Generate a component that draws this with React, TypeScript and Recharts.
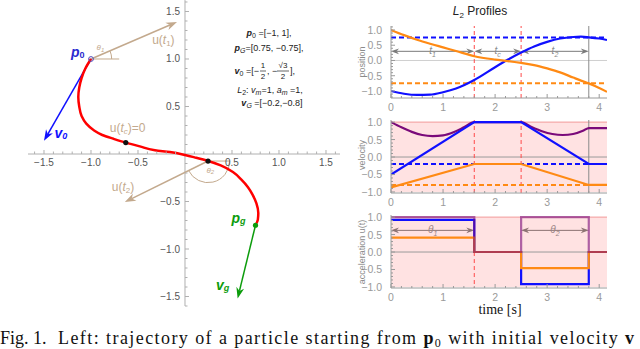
import React from 'react';
import {
  ComposedChart,
  LineChart,
  Line,
  Scatter,
  XAxis,
  YAxis,
  ReferenceLine,
  ReferenceArea,
} from 'recharts';

const BLUE = '#1010ff';
const ORANGE = '#ff8a14';
const PURPLE = '#7a0a7a';
const RED = '#ff0000';
const TAN = '#c3a98d';
const GREEN = '#0c9c0c';
const PINK = '#ffe2e2';
const DASH_RED = '#ff4a4a';
const FRAME = '#9a9a9a';
const TICK_TXT = '#9a9a9a';
const FONT = '"Liberation Sans", Arial, sans-serif';
const SERIF = '"Liberation Serif", "Times New Roman", serif';

// ---- left plot: trajectory in the plane
const TRAJ_X = [-1.0, -1.06, -1.1, -1.125, -1.135, -1.125, -1.1, -1.05, -0.97, -0.88, -0.76, -0.63, -0.48, -0.32, -0.16, 0.0, 0.12, 0.245, 0.38, 0.51, 0.6, 0.67, 0.72, 0.76, 0.78, 0.775, 0.75];
const TRAJ_Y = [1.0, 0.9, 0.8, 0.7, 0.6, 0.5, 0.4, 0.32, 0.25, 0.2, 0.16, 0.12, 0.08, 0.04, 0.02, -0.01, -0.04, -0.074, -0.12, -0.19, -0.27, -0.35, -0.43, -0.52, -0.62, -0.69, -0.75];

const P0 = { x: -1, y: 1 };
const PG = { x: 0.75, y: -0.75 };
const PC = { x: -0.63, y: 0.12 };
const P2 = { x: 0.245, y: -0.074 };
const V0_TIP = { x: -1.5, y: 0.14 };
const VG_TIP = { x: 0.56, y: -1.52 };
const U1_TIP = { x: -0.085, y: 1.39 };
const U2_TIP = { x: -0.64, y: -0.505 };

const AXIS_MAJOR = [-1.5, -1, -0.5, 0.5, 1, 1.5];
const AXIS_MINOR: number[] = [];
for (let i = -16; i <= 16; i++) if (i % 5 !== 0) AXIS_MINOR.push(i / 10);

const LABELS = [
  { id: 'p0', x: -1.14, y: 1.07 },
  { id: 'v0', x: -1.32, y: 0.22 },
  { id: 'u1', x: -0.23, y: 1.2 },
  { id: 'uc', x: -0.61, y: 0.27 },
  { id: 'u2', x: -0.66, y: -0.35 },
  { id: 'pg', x: 0.57, y: -0.67 },
  { id: 'vg', x: 0.4, y: -1.38 },
  { id: 'th1', x: -0.9, y: 1.12 },
  { id: 'th2', x: 0.27, y: -0.17 },
];

// ---- right panels: profiles over time
const T_MAX = 4.15;
const SWITCH_T = [1.6, 2.5];
const T_FINAL = 3.8;

const T_POS = [0, 0.25, 0.5, 0.75, 1, 1.25, 1.6, 2, 2.25, 2.5, 2.75, 3, 3.25, 3.5, 3.65, 3.8, 4, 4.15];
const POS_X = [-1, -1.09, -1.13, -1.12, -1.04, -0.92, -0.64, -0.22, 0.03, 0.26, 0.46, 0.61, 0.72, 0.77, 0.78, 0.76, 0.72, 0.67];
const POS_Y = [1, 0.83, 0.68, 0.55, 0.43, 0.31, 0.14, 0.03, -0.02, -0.08, -0.15, -0.26, -0.39, -0.56, -0.66, -0.75, -0.9, -1.03];
const GOAL_POS = [0.75, -0.75];

const T_VEL = [0, 1.6, 2.5, 3.8, 4.15];
const VEL_X = [-0.5, 1, 1, -0.2, -0.2];
const VEL_Y = [-0.87, -0.2, -0.2, -0.8, -0.8];
const T_SPEED = [0, 0.2, 0.4, 0.6, 0.8, 1.0, 1.2, 1.4, 1.6, 2.5, 2.7, 2.9, 3.1, 3.3, 3.5, 3.7, 3.8, 4.15];
const SPEED = [1, 0.85, 0.72, 0.63, 0.6, 0.62, 0.71, 0.85, 1, 1, 0.86, 0.74, 0.66, 0.63, 0.66, 0.76, 0.83, 0.83];
const GOAL_VEL = [-0.2, -0.8];

const T_ACC = [0, 1.6, 2.5, 3.8, 4.15];
const ACC_X = [0.92, 0, -0.92, 0, 0];
const ACC_Y = [0.41, 0, -0.46, 0, 0];
const ACC_NORM = [1, 0, 1, 0, 0];

const TIME_TICKS: number[] = [];
for (let i = 0; i <= 20; i++) TIME_TICKS.push(i / 5);
const VALUE_TICKS: number[] = [];
for (let i = -12; i <= 11; i++) VALUE_TICKS.push(i / 10);

const series = (ts: number[], vs: number[]) => ts.map((t, i) => ({ t, v: vs[i] }));
const fmt = (v: number) => (v < 0 ? '\u2212' : '') + Math.abs(v).toFixed(1);
const near = (a: number, b: number) => Math.abs(a - b) < 1e-6;

// ---- shapes
const arrow = (color: string, w: number, head: number, both = false, label?: (x: number, y: number) => React.ReactNode) => (p: any) => {
  const { x1, y1, x2, y2 } = p;
  const a = Math.atan2(y2 - y1, x2 - x1);
  const hw = head * 0.36;
  const tip = (x: number, y: number, d: number) => {
    const bx = x - head * Math.cos(d);
    const by = y - head * Math.sin(d);
    const pts = `${x},${y} ${bx + hw * Math.sin(d)},${by - hw * Math.cos(d)} ${bx + 0.3 * head * Math.cos(d)},${by + 0.3 * head * Math.sin(d)} ${bx - hw * Math.sin(d)},${by + hw * Math.cos(d)}`;
    return { bx: bx + 0.3 * head * Math.cos(d), by: by + 0.3 * head * Math.sin(d), pts };
  };
  const e = tip(x2, y2, a);
  const s = both ? tip(x1, y1, a + Math.PI) : null;
  return (
    <g>
      <line x1={s ? s.bx : x1} y1={s ? s.by : y1} x2={e.bx} y2={e.by} stroke={color} strokeWidth={w} />
      <polygon points={e.pts} fill={color} />
      {s && <polygon points={s.pts} fill={color} />}
      {label && label((x1 + x2) / 2, (y1 + y2) / 2)}
    </g>
  );
};

const arc = (color: string, a0: number, a1: number) => (p: any) => {
  const r = p.x2 - p.x1;
  const cx = p.x1;
  const cy = p.y1;
  const rad = (d: number) => (d * Math.PI) / 180;
  const sx = cx + r * Math.cos(rad(a0));
  const sy = cy - r * Math.sin(rad(a0));
  const ex = cx + r * Math.cos(rad(a1));
  const ey = cy - r * Math.sin(rad(a1));
  const sweep = a1 > a0 ? 0 : 1;
  const large = Math.abs(a1 - a0) > 180 ? 1 : 0;
  return <path d={`M${sx},${sy} A${r},${r} 0 ${large} ${sweep} ${ex},${ey}`} fill="none" stroke={color} strokeWidth={1} />;
};

const renderLabel = (id: string, cx: number, cy: number) => {
  const common = { x: cx, y: cy, textAnchor: 'middle' as const, dominantBaseline: 'central' as const, fontFamily: FONT };
  switch (id) {
    case 'p0':
      return <text {...common} fill="#2b2bd0" fontSize={14} fontWeight="bold" fontStyle="italic">p<tspan fontSize={9} dy={3} fontStyle="normal">0</tspan></text>;
    case 'v0':
      return <text {...common} fill={BLUE} fontSize={14} fontWeight="bold" fontStyle="italic">v<tspan fontSize={9} dy={3}>0</tspan></text>;
    case 'u1':
      return <text {...common} fill={TAN} fontSize={12}>u(<tspan fontStyle="italic">t</tspan><tspan fontSize={8} dy={3}>1</tspan><tspan dy={-3}>)</tspan></text>;
    case 'uc':
      return <text {...common} fill={TAN} fontSize={12}>u(<tspan fontStyle="italic">t</tspan><tspan fontSize={8} dy={3} fontStyle="italic">c</tspan><tspan dy={-3}>)=0</tspan></text>;
    case 'u2':
      return <text {...common} fill={TAN} fontSize={12}>u(<tspan fontStyle="italic">t</tspan><tspan fontSize={8} dy={3}>2</tspan><tspan dy={-3}>)</tspan></text>;
    case 'pg':
      return <text {...common} fill={GREEN} fontSize={14} fontWeight="bold" fontStyle="italic">p<tspan fontSize={9} dy={3}>g</tspan></text>;
    case 'vg':
      return <text {...common} fill={GREEN} fontSize={14} fontWeight="bold" fontStyle="italic">v<tspan fontSize={9} dy={3}>g</tspan></text>;
    case 'th1':
      return <text {...common} fill={TAN} fontSize={8} fontStyle="italic">θ<tspan fontSize={6} dy={2}>1</tspan></text>;
    case 'th2':
      return <text {...common} fill={TAN} fontSize={8} fontStyle="italic">θ<tspan fontSize={6} dy={2}>2</tspan></text>;
    default:
      return <g />;
  }
};

const xTickData = [
  ...AXIS_MAJOR.map((v) => ({ x: v, y: 0, major: true })),
  ...AXIS_MINOR.map((v) => ({ x: v, y: 0, major: false })),
];
const yTickData = [
  ...AXIS_MAJOR.map((v) => ({ x: 0, y: v, major: true })),
  ...AXIS_MINOR.map((v) => ({ x: 0, y: v, major: false })),
];

function Trajectory() {
  const traj = TRAJ_X.map((x, i) => ({ x, y: TRAJ_Y[i] }));
  return (
    <ComposedChart width={340} height={310} margin={{ top: 0, right: 0, bottom: 0, left: 0 }}>
      <XAxis type="number" dataKey="x" domain={[-1.968, 1.649]} allowDataOverflow hide />
      <YAxis type="number" dataKey="y" domain={[-1.642, 1.621]} allowDataOverflow hide />
      <ReferenceLine segment={[{ x: -1.67, y: 0 }, { x: 1.649, y: 0 }]} stroke="#b0b0b0" ifOverflow="visible" />
      <ReferenceLine segment={[{ x: 0, y: 1.62 }, { x: 0, y: -1.6 }]} stroke="#b0b0b0" ifOverflow="visible" />
      <Scatter
        data={xTickData}
        isAnimationActive={false}
        shape={(p: any) => (
          <g>
            <line x1={p.cx} x2={p.cx} y1={p.cy} y2={p.cy - (p.payload.major ? 4 : 2.5)} stroke="#b0b0b0" />
            {p.payload.major && (
              <text x={p.cx} y={p.cy + 12} textAnchor="middle" fontSize={10} fill="#555" fontFamily={FONT}>{fmt(p.payload.x)}</text>
            )}
          </g>
        )}
      />
      <Scatter
        data={yTickData}
        isAnimationActive={false}
        shape={(p: any) => (
          <g>
            <line x1={p.cx} x2={p.cx + (p.payload.major ? 4 : 2.5)} y1={p.cy} y2={p.cy} stroke="#b0b0b0" />
            {p.payload.major && (
              <text x={p.cx - 5} y={p.cy} textAnchor="end" dominantBaseline="central" fontSize={10} fill="#555" fontFamily={FONT}>{fmt(p.payload.y)}</text>
            )}
          </g>
        )}
      />
      <ReferenceLine segment={[P0, { x: -0.7, y: 1 }]} stroke={TAN} ifOverflow="visible" />
      <ReferenceLine segment={[P0, { x: -0.78, y: 1 }]} shape={arc(TAN, 0, 23)} ifOverflow="visible" />
      <ReferenceLine segment={[P2, { x: 0.48, y: P2.y }]} stroke={TAN} ifOverflow="visible" />
      <ReferenceLine segment={[P2, { x: 0.475, y: P2.y }]} shape={arc(TAN, 0, -154)} ifOverflow="visible" />
      <ReferenceLine segment={[P0, U1_TIP]} shape={arrow(TAN, 1.5, 11)} ifOverflow="visible" />
      <ReferenceLine segment={[P2, U2_TIP]} shape={arrow(TAN, 1.5, 11)} ifOverflow="visible" />
      <ReferenceLine segment={[P0, V0_TIP]} shape={arrow(BLUE, 1.5, 11)} ifOverflow="visible" />
      <ReferenceLine segment={[PG, VG_TIP]} shape={arrow(GREEN, 1.5, 11)} ifOverflow="visible" />
      <Line data={traj} dataKey="y" type="monotoneY" stroke={RED} strokeWidth={2.5} dot={false} activeDot={false} isAnimationActive={false} />
      <Scatter data={[PC, P2]} isAnimationActive={false} shape={(p: any) => <circle cx={p.cx} cy={p.cy} r={2.6} fill="#111" />} />
      <Scatter data={[PG]} isAnimationActive={false} shape={(p: any) => <circle cx={p.cx} cy={p.cy} r={2.6} fill={GREEN} />} />
      <Scatter data={[P0]} isAnimationActive={false} shape={(p: any) => <circle cx={p.cx} cy={p.cy} r={2.4} fill="none" stroke="#5050c0" strokeWidth={1} />} />
      <Scatter data={LABELS} isAnimationActive={false} shape={(p: any) => renderLabel(p.payload.id, p.cx, p.cy)} />
    </ComposedChart>
  );
}

const TimeTick = (p: any) => {
  const v = p.payload.value;
  const major = near(v, Math.round(v));
  return (
    <g>
      <line x1={p.x} x2={p.x} y1={p.y} y2={p.y - (major ? 4 : 2)} stroke={FRAME} />
      {major && (
        <text x={p.x} y={p.y + 13} textAnchor="middle" fontSize={10.5} fill={TICK_TXT} fontFamily={FONT}>{v}</text>
      )}
    </g>
  );
};

const ValueTick = (p: any) => {
  const v = p.payload.value;
  const major = near(v * 2, Math.round(v * 2));
  return (
    <g>
      <line x1={p.x} x2={p.x + (major ? 4 : 2)} y1={p.y} y2={p.y} stroke={FRAME} />
      {major && (
        <text x={p.x - 9} y={p.y} textAnchor="end" dominantBaseline="central" fontSize={10.5} fill={TICK_TXT} fontFamily={FONT}>{fmt(v)}</text>
      )}
    </g>
  );
};

function Panel({ top, marginTop, plotH, yDomain, children }: { top: number; marginTop: number; plotH: number; yDomain: [number, number]; children: React.ReactNode }) {
  const yTicks = VALUE_TICKS.filter((v) => v >= yDomain[0] && v <= yDomain[1]);
  return (
    <div style={{ position: 'absolute', left: 340, top }}>
      <LineChart width={300} height={marginTop + plotH + 20} margin={{ top: marginTop, right: 33, bottom: 0, left: 0 }}>
        <XAxis type="number" dataKey="t" domain={[0, T_MAX]} allowDataOverflow ticks={TIME_TICKS} interval={0} tickSize={0} tickMargin={0} tickLine={false} height={20} stroke={FRAME} tick={TimeTick} />
        <YAxis type="number" domain={yDomain} allowDataOverflow ticks={yTicks} interval={0} width={51} tickSize={0} tickMargin={0} tickLine={false} stroke={FRAME} tick={ValueTick} />
        {children}
      </LineChart>
    </div>
  );
}

const spanLabel = (color: string, name: string, sb: string) => (x: number, y: number) => (
  <text x={x} y={y - 0.5} textAnchor="middle" dominantBaseline="central" fontSize={10} fill={color} fontFamily={FONT} fontStyle="italic">
    {name}
    <tspan fontSize={7} dy={3}>{sb}</tspan>
  </text>
);

export default function App() {
  const vline = (t: number, key: string) => (
    <ReferenceLine key={key} x={t} stroke={DASH_RED} strokeDasharray="4 3" />
  );
  return (
    <div style={{ position: 'absolute', left: 0, top: 0, width: 640, height: 349, background: '#fff', overflow: 'hidden' }}>
      <div style={{ position: 'absolute', left: 0, top: 0 }}>
        <Trajectory />
      </div>

      <Panel top={0} marginTop={26} plotH={72} yDomain={[-1.23, 1.13]}>
        <ReferenceLine y={0} stroke="#cfcfcf" />
        {SWITCH_T.map((t, i) => vline(t, 'p' + i))}
        <ReferenceLine x={T_FINAL} stroke="#8a8a8a" />
        <ReferenceLine y={GOAL_POS[0]} stroke={BLUE} strokeWidth={2} strokeDasharray="5 3" />
        <ReferenceLine y={GOAL_POS[1]} stroke={ORANGE} strokeWidth={2} strokeDasharray="5 3" />
        <ReferenceLine segment={[{ x: 0, y: 0.3 }, { x: SWITCH_T[0], y: 0.3 }]} shape={arrow('#7a7a7a', 1, 8, true, spanLabel('#8a8a8a', 't', '1'))} />
        <ReferenceLine segment={[{ x: SWITCH_T[0], y: 0.3 }, { x: SWITCH_T[1], y: 0.3 }]} shape={arrow('#7a7a7a', 1, 8, true, spanLabel('#8a8a8a', 't', 'c'))} />
        <ReferenceLine segment={[{ x: SWITCH_T[1], y: 0.3 }, { x: T_FINAL, y: 0.3 }]} shape={arrow('#7a7a7a', 1, 8, true, spanLabel('#8a8a8a', 't', '2'))} />
        <Line data={series(T_POS, POS_X)} dataKey="v" type="monotone" stroke={BLUE} strokeWidth={2.2} dot={false} isAnimationActive={false} />
        <Line data={series(T_POS, POS_Y)} dataKey="v" type="monotone" stroke={ORANGE} strokeWidth={2.2} dot={false} isAnimationActive={false} />
      </Panel>

      <Panel top={100} marginTop={20} plotH={73} yDomain={[-1.03, 1.06]}>
        <ReferenceArea x1={0} x2={T_MAX} y1={-1} y2={1} fill={PINK} fillOpacity={1} stroke="none" />
        <ReferenceLine y={1} stroke="#f29a9a" />
        <ReferenceLine y={0} stroke="#9a9a9a" />
        {SWITCH_T.map((t, i) => vline(t, 'v' + i))}
        <ReferenceLine x={T_FINAL} stroke="#8a8a8a" />
        <ReferenceLine y={GOAL_VEL[0]} stroke={BLUE} strokeWidth={2} strokeDasharray="5 3" />
        <ReferenceLine y={GOAL_VEL[1]} stroke={ORANGE} strokeWidth={2} strokeDasharray="5 3" />
        <Line data={series(T_SPEED, SPEED)} dataKey="v" type="monotone" stroke={PURPLE} strokeWidth={2.2} dot={false} isAnimationActive={false} />
        <Line data={series(T_VEL, VEL_X)} dataKey="v" type="linear" stroke={BLUE} strokeWidth={2.2} dot={false} isAnimationActive={false} />
        <Line data={series(T_VEL, VEL_Y)} dataKey="v" type="linear" stroke={ORANGE} strokeWidth={2.2} dot={false} isAnimationActive={false} />
      </Panel>

      <Panel top={200} marginTop={15} plotH={73} yDomain={[-1.03, 1.06]}>
        <ReferenceArea x1={0} x2={T_MAX} y1={-1} y2={1} fill={PINK} fillOpacity={1} stroke="none" />
        <ReferenceLine y={1} stroke="#f29a9a" />
        <ReferenceLine y={0} stroke="#9a9a9a" />
        <ReferenceLine segment={[{ x: SWITCH_T[0], y: 0 }, { x: SWITCH_T[0], y: -1.03 }]} stroke={DASH_RED} strokeDasharray="4 3" />
        <ReferenceLine segment={[{ x: 0, y: 0.62 }, { x: SWITCH_T[0], y: 0.62 }]} shape={arrow('#8c7272', 1, 8, true, spanLabel('#9a8484', 'θ', '1'))} />
        <ReferenceLine segment={[{ x: SWITCH_T[1], y: 0.62 }, { x: T_FINAL, y: 0.62 }]} shape={arrow('#8c7272', 1, 8, true, spanLabel('#9a8484', 'θ', '2'))} />
        <Line data={series(T_ACC, ACC_X)} dataKey="v" type="stepAfter" stroke={BLUE} strokeWidth={2.2} dot={false} isAnimationActive={false} />
        <Line data={series(T_ACC, ACC_Y)} dataKey="v" type="stepAfter" stroke={ORANGE} strokeWidth={2.2} dot={false} isAnimationActive={false} />
        <Line data={series(T_ACC, ACC_NORM)} dataKey="v" type="stepAfter" stroke={PURPLE} strokeWidth={2.2} strokeOpacity={0.6} dot={false} isAnimationActive={false} />
      </Panel>

      <svg width={640} height={349} style={{ position: 'absolute', left: 0, top: 0, pointerEvents: 'none' }} fontFamily={FONT}>
        {/* info box */}
        <g fontSize={9} fill="#222">
          <text x={269} y={36} textAnchor="middle">
            <tspan fontWeight="bold" fontStyle="italic">p</tspan><tspan fontSize={7} dy={2}>0</tspan><tspan dy={-2}> =[−1, 1],</tspan>
          </text>
          <text x={269} y={51} textAnchor="middle">
            <tspan fontWeight="bold" fontStyle="italic">p</tspan><tspan fontSize={7} dy={2} fontStyle="italic">G</tspan><tspan dy={-2}>=[0.75, −0.75],</tspan>
          </text>
          <text x={259} y={74} textAnchor="end">
            <tspan fontWeight="bold" fontStyle="italic">v</tspan><tspan fontSize={7} dy={2}>0</tspan><tspan dy={-2}> =[−</tspan>
          </text>
          <text x={263} y={68} textAnchor="middle" fontSize={8}>1</text>
          <line x1={260} x2={266} y1={71} y2={71} stroke="#222" strokeWidth={0.7} />
          <text x={263} y={79} textAnchor="middle" fontSize={8}>2</text>
          <text x={267} y={74}>, −</text>
          <text x={283} y={68} textAnchor="middle" fontSize={8}>√3</text>
          <line x1={277} x2={289} y1={71} y2={71} stroke="#222" strokeWidth={0.7} />
          <text x={283} y={79} textAnchor="middle" fontSize={8}>2</text>
          <text x={290} y={74}>],</text>
          <text x={270} y={93} textAnchor="middle">
            <tspan fontStyle="italic">L</tspan><tspan fontSize={7} dy={2}>2</tspan><tspan dy={-2}>: </tspan>
            <tspan fontStyle="italic">v</tspan><tspan fontSize={7} dy={2} fontStyle="italic">m</tspan><tspan dy={-2}>=1, </tspan>
            <tspan fontStyle="italic">a</tspan><tspan fontSize={7} dy={2} fontStyle="italic">m</tspan><tspan dy={-2}> =1,</tspan>
          </text>
          <text x={272} y={106} textAnchor="middle">
            <tspan fontWeight="bold" fontStyle="italic">v</tspan><tspan fontSize={7} dy={2} fontStyle="italic">G</tspan><tspan dy={-2}> =[−0.2,−0.8]</tspan>
          </text>
        </g>

        {/* right side titles */}
        <text x={480} y={15} textAnchor="middle" fontSize={12} fill="#222">
          <tspan fontStyle="italic">L</tspan><tspan fontSize={8} dy={3}>2</tspan><tspan dy={-3}> Profiles</tspan>
        </text>
        <g fontSize={9} fill="#8a8a8a">
          <text transform="translate(365,62) rotate(-90)" textAnchor="middle">position</text>
          <text transform="translate(365,155) rotate(-90)" textAnchor="middle">velocity</text>
          <text transform="translate(365,252) rotate(-90)" textAnchor="middle">acceleration u(t)</text>
        </g>
        <text x={500} y={314} textAnchor="middle" fontSize={14} fill="#111" style={{ fontFamily: SERIF }}>time [s]</text>

        {/* caption */}
        <g style={{ fontFamily: SERIF }} fontSize={18} fill="#111">
          <text x={0} y={344}>Fig. 1.</text>
          <text x={58} y={344} textLength={576} lengthAdjust="spacing">
            Left: trajectory of a particle starting from <tspan fontWeight="bold">p</tspan><tspan fontSize={12} dy={3}>0</tspan><tspan dy={-3}> with initial velocity </tspan><tspan fontWeight="bold">v</tspan>
          </text>
        </g>
      </svg>
    </div>
  );
}
